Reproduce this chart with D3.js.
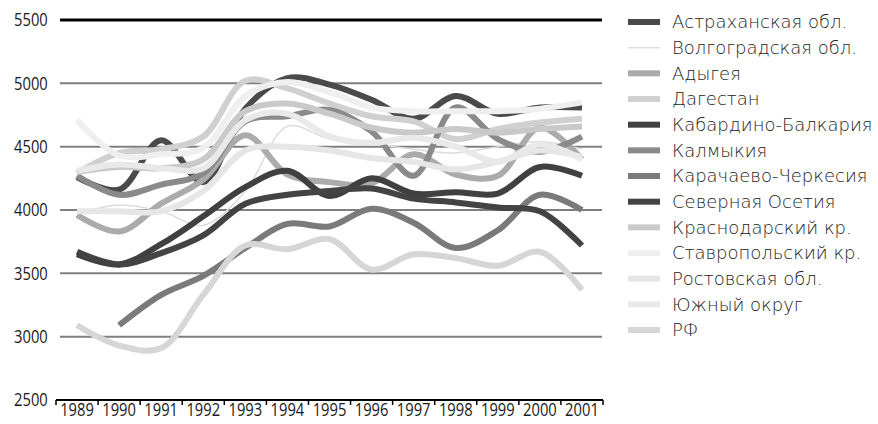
<!DOCTYPE html>
<html>
<head>
<meta charset="utf-8">
<script src="https://cdn.jsdelivr.net/npm/d3@7"></script>
<style>
  html, body { margin: 0; padding: 0; background: #fff; }
  svg { display: block; }
  .tick text { font-family: "Open Sans", "Roboto", sans-serif; font-size: 18px; font-weight: 400; fill: #1a1a1a; }
  .legend text { font-family: "DejaVu Sans", "Noto Sans", sans-serif; font-size: 18px; font-weight: 200; fill: #222; }
</style>
</head>
<body>
<svg id="chart" width="878" height="424"></svg>
<script>
// Years on the horizontal axis
const years = ["1989","1990","1991","1992","1993","1994","1995","1996","1997","1998","1999","2000","2001"];
// Vertical axis ticks
const yTicks = [2500, 3000, 3500, 4000, 4500, 5000, 5500];

// Series values, one per year (null = no data)
const astrakhan   = [4260, 4160, 4550, 4220, 4800, 5040, 4990, 4870, 4720, 4900, 4760, 4810, 4810];
const volgograd   = [3970, 4040, 3990, 3880, 4150, 4660, 4560, 4520, 4480, 4450, 4500, 4540, 4480];
const adygea      = [3960, 3830, 4050, 4240, 4590, 4280, 4220, 4210, 4440, 4280, 4270, 4650, 4400];
const dagestan    = [4290, 4450, 4480, 4580, 5020, 4960, 4840, 4740, 4700, 4560, 4640, 4690, 4720];
const kabBalkaria = [3650, 3570, 3730, 3950, 4180, 4310, 4110, 4250, 4130, 4140, 4130, 4340, 4270];
const kalmykia    = [4270, 4120, 4200, 4290, 4700, 4740, 4790, 4620, 4270, 4810, 4560, 4460, 4580];
const karCherkess = [null, 3090, 3330, 3480, 3700, 3890, 3870, 4010, 3900, 3700, 3840, 4120, 4000];
const sevOsetia   = [3670, 3570, 3660, 3800, 4050, 4120, 4150, 4170, 4090, 4060, 4020, 3990, 3720];
const krasnodar   = [4300, 4340, 4330, 4400, 4780, 4840, 4760, 4650, 4610, 4640, 4610, 4640, 4660];
const stavropol   = [4710, 4430, 4440, 4490, 4900, 5010, 4930, 4810, 4780, 4780, 4780, 4800, 4850];
const rostov      = [3990, 3990, 3990, 4150, 4470, 4500, 4470, 4410, 4380, 4320, 4380, 4470, 4420];
const southDist   = [4310, 4360, 4330, 4330, 4710, 4760, 4580, 4530, 4570, 4500, 4380, 4520, 4400];
const russia      = [3090, 2930, 2910, 3330, 3720, 3690, 3770, 3530, 3650, 3620, 3560, 3670, 3370];

const seriesNames = ["Астраханская обл.", "Волгоградская обл.", "Адыгея", "Дагестан",
  "Кабардино-Балкария", "Калмыкия", "Карачаево-Черкесия", "Северная Осетия",
  "Краснодарский кр.", "Ставропольский кр.", "Ростовская обл.", "Южный округ", "РФ"];
const seriesValues = [astrakhan, volgograd, adygea, dagestan, kabBalkaria, kalmykia,
  karCherkess, sevOsetia, krasnodar, stavropol, rostov, southDist, russia];
const seriesColors = ["#4a4a4a", "#dcdcdc", "#ababab", "#d0d0d0", "#404040", "#8a8a8a",
  "#7a7a7a", "#434343", "#c9c9c9", "#efefef", "#e6e6e6", "#e9e9e9", "#d6d6d6"];
const seriesWidths = [6, 1.5, 6, 6, 6, 6, 6, 6, 6, 6, 6, 6, 6];

const svg = d3.select("#chart");

const x = d3.scaleBand().domain(years).range([56, 603]);
const y = d3.scaleLinear().domain([2500, 5500]).range([400, 20]);
const cx = d => x(d) + x.bandwidth() / 2;

// Horizontal grid lines
svg.append("g")
  .selectAll("line")
  .data(yTicks.filter(v => v !== 2500 && v !== 5500))
  .join("line")
  .attr("x1", 60).attr("x2", 602)
  .attr("y1", d => y(d)).attr("y2", d => y(d))
  .attr("stroke", "#7f7f7f").attr("stroke-width", 2);

// Top rule
svg.append("line")
  .attr("x1", 60).attr("x2", 602)
  .attr("y1", y(5500)).attr("y2", y(5500))
  .attr("stroke", "#000").attr("stroke-width", 3);

// Vertical axis labels (condensed)
const yAxis = svg.append("g")
  .attr("transform", "translate(56,0)")
  .call(d3.axisLeft(y).tickValues(yTicks).tickSize(0).tickPadding(10).tickFormat(d3.format("d")));
yAxis.select(".domain").remove();
yAxis.selectAll(".tick text").attr("transform", "scale(0.82,1)");

// Horizontal axis: line, boundary ticks, year labels
const xAxis = svg.append("g")
  .attr("transform", `translate(0,${y(2500)})`)
  .call(d3.axisBottom(x).tickSize(0).tickPadding(3));
xAxis.select(".domain").remove();
xAxis.selectAll(".tick text").attr("transform", "scale(0.82,1)");
svg.append("line")
  .attr("x1", 56).attr("x2", 603)
  .attr("y1", y(2500)).attr("y2", y(2500))
  .attr("stroke", "#000").attr("stroke-width", 2);
const bounds = years.map(d => x(d)).concat([x(years[years.length - 1]) + x.bandwidth()]);
svg.append("g")
  .selectAll("line")
  .data(bounds)
  .join("line")
  .attr("x1", d => d).attr("x2", d => d)
  .attr("y1", y(2500)).attr("y2", y(2500) + 5)
  .attr("stroke", "#000").attr("stroke-width", 1.5);

// Series lines
const line = d3.line()
  .defined(d => d.v !== null)
  .x(d => cx(d.year))
  .y(d => y(d.v))
  .curve(d3.curveCatmullRom.alpha(0.5));

svg.append("g")
  .selectAll("path")
  .data(seriesNames.map((name, i) => ({
    name, color: seriesColors[i], width: seriesWidths[i],
    points: years.map((yr, j) => ({ year: yr, v: seriesValues[i][j] }))
  })))
  .join("path")
  .attr("fill", "none")
  .attr("stroke", d => d.color)
  .attr("stroke-width", d => d.width)
  .attr("stroke-linejoin", "round")
  .attr("d", d => line(d.points));

// Legend
const legend = svg.append("g").attr("class", "legend");
const rowY = i => 22 + i * 25.67;
legend.selectAll("line")
  .data(seriesNames)
  .join("line")
  .attr("x1", 628).attr("x2", 660)
  .attr("y1", (d, i) => rowY(i)).attr("y2", (d, i) => rowY(i))
  .attr("stroke", (d, i) => seriesColors[i])
  .attr("stroke-width", (d, i) => seriesWidths[i] === 6 ? 6 : 1.5);
legend.selectAll("text")
  .data(seriesNames)
  .join("text")
  .attr("x", 672)
  .attr("y", (d, i) => rowY(i))
  .attr("dy", "0.35em")
  .text(d => d);
</script>
</body>
</html>
